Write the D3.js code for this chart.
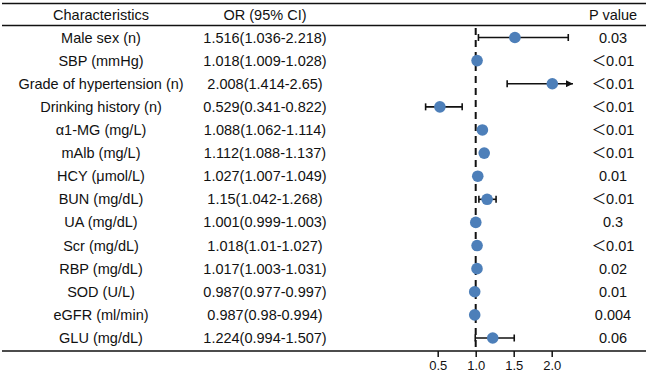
<!DOCTYPE html>
<html><head><meta charset="utf-8">
<script src="https://cdn.jsdelivr.net/npm/d3@7"></script>
<style>
body{margin:0;background:#fff;}
text{font-family:"Liberation Sans",Arial,"Noto Sans CJK SC",sans-serif;fill:#111;}
</style></head>
<body><svg id="c" width="648" height="374"></svg>
<script>
const labels = ["Male sex (n)","SBP (mmHg)","Grade of hypertension (n)","Drinking history (n)","α1-MG (mg/L)","mAlb (mg/L)","HCY (μmol/L)","BUN (mg/dL)","UA (mg/dL)","Scr (mg/dL)","RBP (mg/dL)","SOD (U/L)","eGFR (ml/min)","GLU (mg/dL)"];
const orVals = [1.516,1.018,2.008,0.529,1.088,1.112,1.027,1.15,1.001,1.018,1.017,0.987,0.987,1.224];
const loVals = [1.036,1.009,1.414,0.341,1.062,1.088,1.007,1.042,0.999,1.01,1.003,0.977,0.98,0.994];
const hiVals = [2.218,1.028,2.65,0.822,1.114,1.137,1.049,1.268,1.003,1.027,1.031,0.997,0.994,1.507];
const orText = ["1.516(1.036-2.218)","1.018(1.009-1.028)","2.008(1.414-2.65)","0.529(0.341-0.822)","1.088(1.062-1.114)","1.112(1.088-1.137)","1.027(1.007-1.049)","1.15(1.042-1.268)","1.001(0.999-1.003)","1.018(1.01-1.027)","1.017(1.003-1.031)","0.987(0.977-0.997)","0.987(0.98-0.994)","1.224(0.994-1.507)"];
const pText = ["0.03","＜0.01","＜0.01","＜0.01","＜0.01","＜0.01","0.01","＜0.01","0.3","＜0.01","0.02","0.01","0.004","0.06"];
const headers = ["Characteristics","OR (95% CI)","P value"];
const xTicks = [0.5,1.0,1.5,2.0];
const xMaxShown = 2.28;

const svg = d3.select("#c");
const x = d3.scaleLinear().domain([0.5,2.0]).range([437.7,551.7]);
const y = d3.scalePoint().domain(labels).range([37.5,338]);
const col = [101,265,613];
const fs = 14.5;

[3.5,25.5,351].forEach(yy=>{
  svg.append("line").attr("x1",2).attr("x2",646).attr("y1",yy).attr("y2",yy)
    .attr("stroke","#111").attr("stroke-width",1.5);
});
svg.selectAll("text.h").data(headers).join("text").attr("class","h")
  .attr("x",(d,i)=>col[i]).attr("y",14.5).attr("dy","0.35em")
  .attr("text-anchor","middle").attr("font-size",fs).text(d=>d);

const rows = labels.map((l,i)=>({l,or:orVals[i],lo:loVals[i],hi:hiVals[i],ot:orText[i],pt:pText[i]}));
svg.selectAll("text.l").data(rows).join("text").attr("class","l")
  .attr("x",col[0]).attr("y",d=>y(d.l)).attr("dy","0.35em").attr("text-anchor","middle")
  .attr("font-size",fs).text(d=>d.l);
svg.selectAll("text.o").data(rows).join("text").attr("class","o")
  .attr("x",col[1]).attr("y",d=>y(d.l)).attr("dy","0.35em").attr("text-anchor","middle")
  .attr("font-size",fs).text(d=>d.ot);
svg.selectAll("text.p").data(rows).join("text").attr("class","p")
  .attr("x",col[2]).attr("y",d=>y(d.l)).attr("dy","0.35em").attr("text-anchor","middle")
  .attr("font-size",fs).text(d=>d.pt);

svg.append("line").attr("x1",x(1)).attr("x2",x(1)).attr("y1",28).attr("y2",351)
  .attr("stroke","#111").attr("stroke-width",2).attr("stroke-dasharray","7,5");

svg.append("defs").append("marker").attr("id","arr").attr("viewBox","0 0 10 10")
  .attr("refX",10).attr("refY",5).attr("markerWidth",4.5).attr("markerHeight",4.5)
  .attr("orient","auto").attr("markerUnits","strokeWidth")
  .append("path").attr("d","M0,0L10,5L0,10Z").attr("fill","#111");

const g = svg.append("g");
rows.forEach(d=>{
  const yy = y(d.l);
  const clipped = d.hi > xMaxShown;
  const hi = clipped ? xMaxShown : d.hi;
  g.append("line").attr("x1",x(d.lo)).attr("x2",x(hi)).attr("y1",yy).attr("y2",yy)
    .attr("stroke","#111").attr("stroke-width",1.6)
    .attr("marker-end",clipped?"url(#arr)":null);
  g.append("line").attr("x1",x(d.lo)).attr("x2",x(d.lo)).attr("y1",yy-3.5).attr("y2",yy+3.5)
    .attr("stroke","#111").attr("stroke-width",1.6);
  if(!clipped) g.append("line").attr("x1",x(d.hi)).attr("x2",x(d.hi)).attr("y1",yy-3.5).attr("y2",yy+3.5)
    .attr("stroke","#111").attr("stroke-width",1.6);
  g.append("circle").attr("cx",x(d.or)).attr("cy",yy).attr("r",5.8).attr("fill","#4d7fb9");
});

const ax = svg.append("g").attr("transform","translate(0,351)")
  .call(d3.axisBottom(x).tickValues(xTicks).tickFormat(d3.format(".1f")).tickSize(6).tickPadding(4));
ax.select(".domain").remove();
ax.selectAll(".tick line").attr("stroke","#111").attr("stroke-width",1.5);
ax.selectAll(".tick text").attr("font-size",13).attr("font-family","Liberation Sans, Arial, sans-serif").attr("fill","#111");
</script></body></html>
